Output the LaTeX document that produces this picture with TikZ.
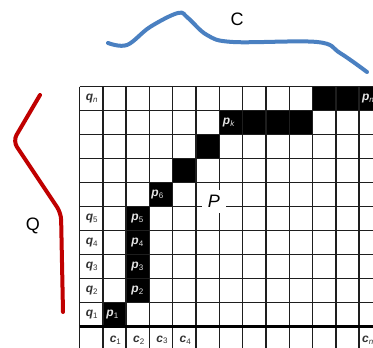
\documentclass[tikz,border=0pt]{standalone}
\usepackage{fontspec}
\setmainfont{Liberation Sans}
\usepackage{tikz}
\usetikzlibrary{positioning}
\definecolor{WarpBlue}{HTML}{4A80C1}
\definecolor{WarpRed}{HTML}{C00000}
\definecolor{WarpLine}{HTML}{1E1E1E}
\definecolor{WarpInk}{HTML}{333333}
\definecolor{WarpPaleInk}{HTML}{E4E4E4}
\newcommand{\lbl}[2]{{\bfseries\itshape #1}\textsubscript{\mdseries\upshape #2}}

\begin{document}
\begin{tikzpicture}[
    x=1pt,y=1pt,
    gridline/.style={draw=WarpLine,line width=1.4pt},
    axisline/.style={draw=black,line width=2.6pt},
    qlab/.style={anchor=west,inner sep=0pt,text=WarpInk,font=\fontsize{12}{12}\selectfont},
    plab/.style={anchor=west,inner sep=0pt,text=WarpPaleInk,font=\fontsize{12}{12}\selectfont},
    clab/.style={inner sep=0pt,text=WarpInk,font=\fontsize{12}{12}\selectfont},
    curve/.style={line width=4pt,line cap=round,line join=round},
    bigname/.style={inner sep=0pt,font=\fontsize{18}{18}\selectfont}
  ]
    \clip (0,0) rectangle (373,348);
    \fill[white] (0,0) rectangle (373,348);

    % warping matrix, one unit = one cell, rows counted from the top
    \begin{scope}[shift={(79.5,261.3)},x=23.3pt,y=-24pt]
      \foreach \c/\r in {1/9,2/8,2/7,2/6,2/5,3/4,4/3,5/2,6/1,7/1,8/1,9/1,10/0,11/0,12/0}
        \fill[black] (\c,\r) rectangle ++(1,1);
      \foreach \r in {0,...,11}
        \draw[gridline] (0,\r) -- (13,\r);
      \foreach \c in {0,...,13}
        \draw[gridline] (\c,0) -- (\c,11);
      \draw[axisline] (0,10) -- (13,10);

      \node[qlab] (qn) at (0.26,0.5) {\lbl{q}{\itshape n}};
      \node[qlab] (q5) at (0.26,5.5) {\lbl{q}{5}};
      \node[qlab] (q4) at (0.26,6.5) {\lbl{q}{4}};
      \node[qlab] (q3) at (0.26,7.5) {\lbl{q}{3}};
      \node[qlab] (q2) at (0.26,8.5) {\lbl{q}{2}};
      \node[qlab] (q1) at (0.26,9.5) {\lbl{q}{1}};

      \node[plab] (p1) at (1.15,9.5) {\lbl{p}{1}};
      \node[plab] (p2) at (2.22,8.5) {\lbl{p}{2}};
      \node[plab] (p3) at (2.22,7.5) {\lbl{p}{3}};
      \node[plab] (p4) at (2.22,6.5) {\lbl{p}{4}};
      \node[plab] (p5) at (2.22,5.5) {\lbl{p}{5}};
      \node[plab] (p6) at (3.08,4.5) {\lbl{p}{6}};
      \node[plab] (pk) at (6.15,1.5) {\lbl{p}{\itshape k}};
      \node[plab] (pn) at (12.12,0.5) {\lbl{p}{\itshape n}};

      \node[clab] (c1) at (1.55,10.55) {\lbl{c}{1}};
      \node[clab] (c2) at (2.55,10.55) {\lbl{c}{2}};
      \node[clab] (c3) at (3.55,10.55) {\lbl{c}{3}};
      \node[clab] (c4) at (4.55,10.55) {\lbl{c}{4}};
      \node[clab,anchor=west] (cn) at (12.12,10.55) {\lbl{c}{\itshape n}};
    \end{scope}

    \node[bigname,fill=white,minimum width=24pt,minimum height=23pt] (path) at (214,146.5) {\itshape P};

    % the two series
    \draw[curve,WarpBlue] plot[smooth,tension=0.6] coordinates
      {(108,305) (127,303) (150,321) (178,335) (188,330) (207,313) (233,306) (317,306) (340,295) (367,276)};
    \draw[curve,WarpRed,rounded corners=7pt] (40,253) -- (13,207) -- (61,135) -- (63,36);
    \node[bigname] (series c) at (237,329) {C};
    \node[bigname] (series q) at (33,122) {Q};
\end{tikzpicture}
\end{document}
